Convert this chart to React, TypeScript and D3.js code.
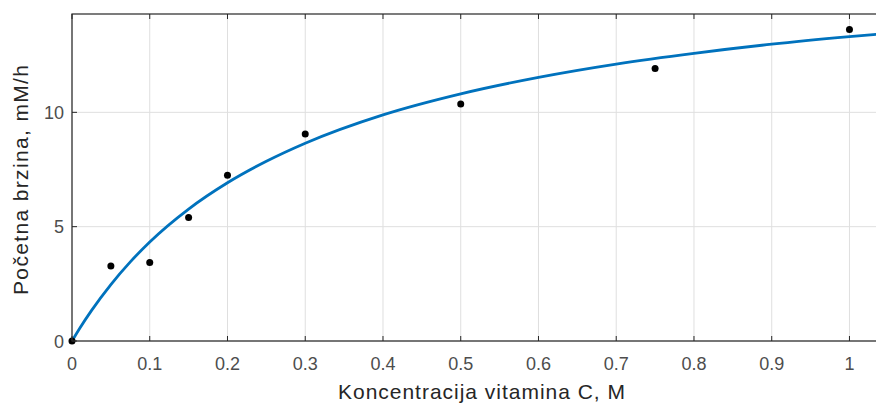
import * as d3 from 'd3';
import React from 'react';

// measured points (concentration, initial rate)
const concX = [0, 0.05, 0.1, 0.15, 0.2, 0.3, 0.5, 0.75, 1.0];
const rateY = [0, 3.28, 3.43, 5.4, 7.25, 9.05, 10.36, 11.92, 13.62];

// fitted curve
const fitX = [0, 0.01, 0.025, 0.05, 0.075, 0.1, 0.15, 0.2, 0.25, 0.3, 0.4, 0.5, 0.6, 0.7, 0.8, 0.9, 1.0, 1.04];
const fitY = [0, 0.56, 1.33, 2.47, 3.46, 4.33, 5.77, 6.92, 7.86, 8.65, 9.89, 10.81, 11.53, 12.11, 12.58, 12.98, 13.31, 13.43];

const xTicks = [0, 0.1, 0.2, 0.3, 0.4, 0.5, 0.6, 0.7, 0.8, 0.9, 1];
const yTicks = [0, 5, 10];

const W = 876;
const H = 406;
const margin = { top: 14, right: -2, bottom: 65, left: 72 };
const font = '"Liberation Sans", Arial, sans-serif';
const axisColor = '#262626';
const gridColor = '#dfdfdf';

export default function App() {
  const iw = W - margin.left - margin.right;
  const ih = H - margin.top - margin.bottom;

  const x = d3.scaleLinear().domain([0, 1.0367]).range([0, iw]);
  const y = d3.scaleLinear().domain([0, 14.3]).range([ih, 0]);

  const line = d3
    .line<number>()
    .x((_, i) => x(fitX[i]))
    .y(d => y(d))
    .curve(d3.curveMonotoneX);

  const tick = 5;

  return (
    <svg
      width={W}
      height={H}
      style={{ position: 'absolute', left: 0, top: 0, background: '#fff' }}
    >
      <g transform={`translate(${margin.left},${margin.top})`}>
        {/* grid */}
        {xTicks.map(t => (
          <line key={'gx' + t} x1={x(t)} x2={x(t)} y1={0} y2={ih} stroke={gridColor} strokeWidth={1} />
        ))}
        {yTicks.map(t => (
          <line key={'gy' + t} x1={0} x2={iw} y1={y(t)} y2={y(t)} stroke={gridColor} strokeWidth={1} />
        ))}

        {/* fitted curve */}
        <path d={line(fitY) ?? ''} fill="none" stroke="#0072BD" strokeWidth={2.8} />

        {/* data points */}
        {concX.map((cx, i) => (
          <circle key={'p' + i} cx={x(cx)} cy={y(rateY[i])} r={3.5} fill="#000" />
        ))}

        {/* box */}
        <rect x={0} y={0} width={iw} height={ih} fill="none" stroke={axisColor} strokeWidth={1.2} />

        {/* ticks */}
        {xTicks.map(t => (
          <g key={'tx' + t}>
            <line x1={x(t)} x2={x(t)} y1={ih} y2={ih - tick} stroke={axisColor} />
            <line x1={x(t)} x2={x(t)} y1={0} y2={tick} stroke={axisColor} />
            <text
              x={x(t)}
              y={ih + 29}
              textAnchor="middle"
              fontFamily={font}
              fontSize={18}
              fill="#4d4d4d"
            >
              {t}
            </text>
          </g>
        ))}
        {yTicks.map(t => (
          <g key={'ty' + t}>
            <line x1={0} x2={tick} y1={y(t)} y2={y(t)} stroke={axisColor} />
            <text
              x={-8}
              y={y(t) + 6.5}
              textAnchor="end"
              fontFamily={font}
              fontSize={18}
              fill="#4d4d4d"
            >
              {t}
            </text>
          </g>
        ))}
      </g>

      {/* axis labels */}
      <text
        x={481.5}
        y={399}
        textAnchor="middle"
        fontFamily={font}
        fontSize={21}
        textLength={287}
        lengthAdjust="spacing"
        fill="#262626"
      >
        Koncentracija vitamina C, M
      </text>
      <text
        transform="translate(28,180) rotate(-90)"
        textAnchor="middle"
        fontFamily={font}
        fontSize={21}
        textLength={230}
        lengthAdjust="spacing"
        fill="#262626"
      >
        Početna brzina, mM/h
      </text>
    </svg>
  );
}
